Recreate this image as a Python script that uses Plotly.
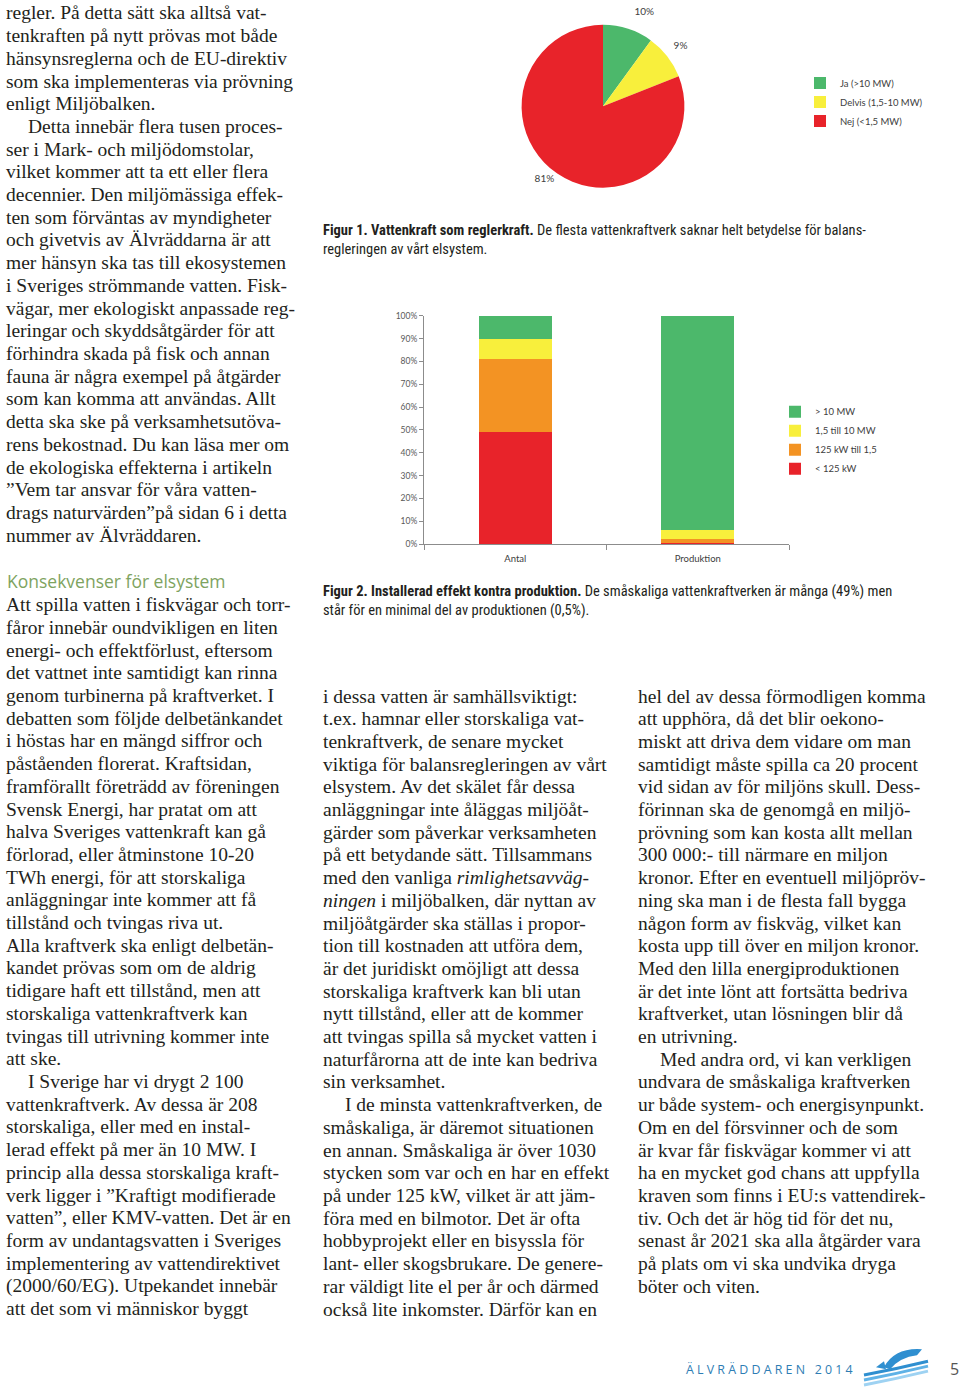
import plotly.graph_objects as go

W, H = 960, 1392

# ---------------- data ----------------
pie_labels = ["Ja (>10 MW)", "Delvis (1,5-10 MW)", "Nej (<1,5 MW)"]
pie_values = [10, 9, 81]
pie_colors = ["#4cb86b", "#f8ef3c", "#e8232a"]

bar_categories = ["Antal", "Produktion"]
bar_series = ["< 125 kW", "125 kW till 1,5", "1,5 till 10 MW", "> 10 MW"]
red_vals = [49, 0.5]
orange_vals = [32, 1.8]
yellow_vals = [9, 3.8]
green_vals = [10, 93.9]
bar_values = [red_vals, orange_vals, yellow_vals, green_vals]
bar_colors = ["#e8232a", "#f39323", "#f8ef3c", "#4cb86b"]
y_tick_vals = [0, 10, 20, 30, 40, 50, 60, 70, 80, 90, 100]
y_tick_text = ["0%", "10%", "20%", "30%", "40%", "50%", "60%", "70%", "80%", "90%", "100%"]

# ---------------- page text ----------------
left_top = [
    "regler. På detta sätt ska alltså vat-",
    "tenkraften på nytt prövas mot både",
    "hänsynsreglerna och de EU-direktiv",
    "som ska implementeras via prövning",
    "enligt Miljöbalken.",
    "Detta innebär flera tusen proces-",
    "ser i Mark- och miljödomstolar,",
    "vilket kommer att ta ett eller flera",
    "decennier. Den miljömässiga effek-",
    "ten som förväntas av myndigheter",
    "och givetvis av Älvräddarna är att",
    "mer hänsyn ska tas till ekosystemen",
    "i Sveriges strömmande vatten. Fisk-",
    "vägar, mer ekologiskt anpassade reg-",
    "leringar och skyddsåtgärder för att",
    "förhindra skada på fisk och annan",
    "fauna är några exempel på åtgärder",
    "som kan komma att användas. Allt",
    "detta ska ske på verksamhetsutöva-",
    "rens bekostnad. Du kan läsa mer om",
    "de ekologiska effekterna i artikeln",
    "”Vem tar ansvar för våra vatten-",
    "drags naturvärden”på sidan 6 i detta",
    "nummer av Älvräddaren.",
]
left_top_indent = {5}

left_heading = "Konsekvenser för elsystem"

left_bottom = [
    "Att spilla vatten i fiskvägar och torr-",
    "fåror innebär oundvikligen en liten",
    "energi- och effektförlust, eftersom",
    "det vattnet inte samtidigt kan rinna",
    "genom turbinerna på kraftverket. I",
    "debatten som följde delbetänkandet",
    "i höstas har en mängd siffror och",
    "påståenden florerat. Kraftsidan,",
    "framförallt företrädd av föreningen",
    "Svensk Energi, har pratat om att",
    "halva Sveriges vattenkraft kan gå",
    "förlorad, eller åtminstone 10-20",
    "TWh energi, för att storskaliga",
    "anläggningar inte kommer att få",
    "tillstånd och tvingas riva ut.",
    "Alla kraftverk ska enligt delbetän-",
    "kandet prövas som om de aldrig",
    "tidigare haft ett tillstånd, men att",
    "storskaliga vattenkraftverk kan",
    "tvingas till utrivning kommer inte",
    "att ske.",
    "I Sverige har vi drygt 2 100",
    "vattenkraftverk. Av dessa är 208",
    "storskaliga, eller med en instal-",
    "lerad effekt på mer än 10 MW. I",
    "princip alla dessa storskaliga kraft-",
    "verk ligger i ”Kraftigt modifierade",
    "vatten”, eller KMV-vatten. Det är en",
    "form av undantagsvatten i Sveriges",
    "implementering av vattendirektivet",
    "(2000/60/EG). Utpekandet innebär",
    "att det som vi människor byggt",
]
left_bottom_indent = {21}

middle_col = [
    "i dessa vatten är samhällsviktigt:",
    "t.ex. hamnar eller storskaliga vat-",
    "tenkraftverk, de senare mycket",
    "viktiga för balansregleringen av vårt",
    "elsystem. Av det skälet får dessa",
    "anläggningar inte åläggas miljöåt-",
    "gärder som påverkar verksamheten",
    "på ett betydande sätt. Tillsammans",
    "med den vanliga <i>rimlighetsavväg-</i>",
    "<i>ningen</i> i miljöbalken, där nyttan av",
    "miljöåtgärder ska ställas i propor-",
    "tion till kostnaden att utföra dem,",
    "är det juridiskt omöjligt att dessa",
    "storskaliga kraftverk kan bli utan",
    "nytt tillstånd, eller att de kommer",
    "att tvingas spilla så mycket vatten i",
    "naturfårorna att de inte kan bedriva",
    "sin verksamhet.",
    "I de minsta vattenkraftverken, de",
    "småskaliga, är däremot situationen",
    "en annan. Småskaliga är över 1030",
    "stycken som var och en har en effekt",
    "på under 125 kW, vilket är att jäm-",
    "föra med en bilmotor. Det är ofta",
    "hobbyprojekt eller en bisyssla för",
    "lant- eller skogsbrukare. De genere-",
    "rar väldigt lite el per år och därmed",
    "också lite inkomster. Därför kan en",
]
middle_indent = {18}

right_col = [
    "hel del av dessa förmodligen komma",
    "att upphöra, då det blir oekono-",
    "miskt att driva dem vidare om man",
    "samtidigt måste spilla ca 20 procent",
    "vid sidan av för miljöns skull. Dess-",
    "förinnan ska de genomgå en miljö-",
    "prövning som kan kosta allt mellan",
    "300 000:- till närmare en miljon",
    "kronor. Efter en eventuell miljöpröv-",
    "ning ska man i de flesta fall bygga",
    "någon form av fiskväg, vilket kan",
    "kosta upp till över en miljon kronor.",
    "Med den lilla energiproduktionen",
    "är det inte lönt att fortsätta bedriva",
    "kraftverket, utan lösningen blir då",
    "en utrivning.",
    "Med andra ord, vi kan verkligen",
    "undvara de småskaliga kraftverken",
    "ur både system- och energisynpunkt.",
    "Om en del försvinner och de som",
    "är kvar får fiskvägar kommer vi att",
    "ha en mycket god chans att uppfylla",
    "kraven som finns i EU:s vattendirek-",
    "tiv. Och det är hög tid för det nu,",
    "senast år 2021 ska alla åtgärder vara",
    "på plats om vi ska undvika dryga",
    "böter och viten.",
]
right_indent = {16}

fig1_caption = [
    "<b>Figur 1. Vattenkraft som reglerkraft.</b> De flesta vattenkraftverk saknar helt betydelse för balans-",
    "regleringen av vårt elsystem.",
]
fig2_caption = [
    "<b>Figur 2. Installerad effekt kontra produktion.</b> De småskaliga vattenkraftverken är många (49%) men",
    "står för en minimal del av produktionen (0,5%).",
]
footer_text = "Ä L V R Ä D D A R E N   2 0 1 4"
page_number = "5"

# ---------------- helpers ----------------
def fx(px):
    return px / W


def fy(py):
    return 1 - py / H


SERIF = "Liberation Serif, Times New Roman, serif"
BODY_SIZE = 19.5
BODY_COLOR = "#231f20"
LINE = 22.87
CAP_FONT = "Liberation Sans Narrow, Arial Narrow, Roboto Condensed, sans-serif"
CHART_FONT = "Lato, Carlito, Calibri, sans-serif"

fig = go.Figure()


def add_text(text, x, y, size, family, color, xanchor="left"):
    fig.add_annotation(
        text=text, x=fx(x), y=fy(y), xref="paper", yref="paper",
        xanchor=xanchor, yanchor="middle", showarrow=False, align="left",
        borderpad=0, font=dict(size=size, family=family, color=color),
    )


def add_column(lines, x, y0, indents, indent=22):
    for i, line in enumerate(lines):
        add_text(line, x + (indent if i in indents else 0), y0 + i * LINE,
                 BODY_SIZE, SERIF, BODY_COLOR)


# ---------------- charts ----------------
fig.add_trace(go.Pie(
    labels=pie_labels, values=pie_values, sort=False, direction="clockwise",
    rotation=0, marker=dict(colors=pie_colors, line=dict(width=0)),
    texttemplate=["%{percent}<br> ", "%{percent}<br> ", "%{percent}"],
    textposition="outside",
    textfont=dict(size=10, color="#404040", family=CHART_FONT),
    domain=dict(x=[fx(521), fx(685)], y=[fy(184), fy(20)]),
    legend="legend", showlegend=True, hoverinfo="label+percent",
))

for name, vals, col in zip(bar_series, bar_values, bar_colors):
    fig.add_trace(go.Bar(
        x=bar_categories, y=vals, name=name, marker=dict(color=col, line=dict(width=0)),
        legend="legend2", xaxis="x", yaxis="y",
    ))

fig.update_layout(
    width=W, height=H, autosize=False,
    margin=dict(l=0, r=0, t=0, b=0),
    paper_bgcolor="white", plot_bgcolor="white",
    barmode="stack", bargap=0.6,
    xaxis=dict(
        domain=[fx(424), fx(789)], showline=True, linecolor="#8c8c8c", linewidth=1,
        ticks="outside", tickson="boundaries", ticklen=5, tickcolor="#8c8c8c",
        showgrid=False, tickfont=dict(size=9.5, color="#404040", family=CHART_FONT),
        ticklabelstandoff=6, fixedrange=True,
    ),
    yaxis=dict(
        domain=[fy(543), fy(313)], range=[0, 100], tickmode="array",
        tickvals=y_tick_vals, ticktext=y_tick_text,
        showline=True, linecolor="#8c8c8c", linewidth=1, ticks="outside", ticklen=4,
        tickcolor="#8c8c8c", showgrid=False, zeroline=False,
        tickfont=dict(size=8.5, color="#595959", family=CHART_FONT), fixedrange=True,
    ),
    legend=dict(
        x=fx(800), y=fy(64), xanchor="left", yanchor="top", itemwidth=30,
        font=dict(size=9.5, color="#404040", family=CHART_FONT), bgcolor="rgba(0,0,0,0)",
        tracegroupgap=0,
    ),
    legend2=dict(
        x=fx(775), y=fy(395), xanchor="left", yanchor="top", itemwidth=30,
        traceorder="reversed",
        font=dict(size=9.5, color="#404040", family=CHART_FONT), bgcolor="rgba(0,0,0,0)",
        tracegroupgap=0,
    ),
)

# ---------------- body text ----------------
add_column(left_top, 5, 8, left_top_indent)
add_text(left_heading, 6, 580, 17.5, "Open Sans, Noto Sans, sans-serif", "#7ea35f")
add_column(left_bottom, 5, 604, left_bottom_indent)
add_column(middle_col, 322, 696, middle_indent)
add_column(right_col, 637, 696, right_indent)

for i, line in enumerate(fig1_caption):
    add_text(line, 322, 227 + i * 19, 14.5, CAP_FONT, "#231f20")
for i, line in enumerate(fig2_caption):
    add_text(line, 322, 591 + i * 19, 14.5, CAP_FONT, "#231f20")

# footer
add_text(footer_text, 685, 1374, 12.4, "Open Sans, Noto Sans, sans-serif", "#2e7db4")
add_text(page_number, 954, 1374, 16, "Open Sans, Noto Sans, sans-serif", "#555555", xanchor="center")


def ppath(points_cmds):
    out = []
    for c in points_cmds:
        if isinstance(c, str):
            out.append(c)
        else:
            out.append(f"{fx(c[0]):.5f},{fy(c[1]):.5f}")
    return " ".join(out)


# logo (decorative waves + fish)
fig.add_shape(type="path", xref="paper", yref="paper", layer="above",
              path=ppath(["M", (884, 1372), "Q", (895, 1352), (922, 1354),
                          "L", (917, 1360), "Q", (900, 1362), (890, 1374), "Z"]),
              fillcolor="#2f8fd0", line=dict(width=0))
fig.add_shape(type="path", xref="paper", yref="paper", layer="above",
              path=ppath(["M", (876, 1372), "L", (884, 1366), "L", (886, 1374), "Z"]),
              fillcolor="#2f8fd0", line=dict(width=0))
for (y0, col) in [(1378, "#2f8fd0"), (1383, "#5fb2e6"), (1388, "#9ed2f2")]:
    fig.add_shape(type="path", xref="paper", yref="paper", layer="above",
                  path=ppath(["M", (864, y0 + 2), "Q", (895, y0 - 4), (928, y0 - 12)]),
                  line=dict(color=col, width=3))

fig.write_html("out.html", config={"displayModeBar": False},
               post_script="document.body.style.margin='0px';")
